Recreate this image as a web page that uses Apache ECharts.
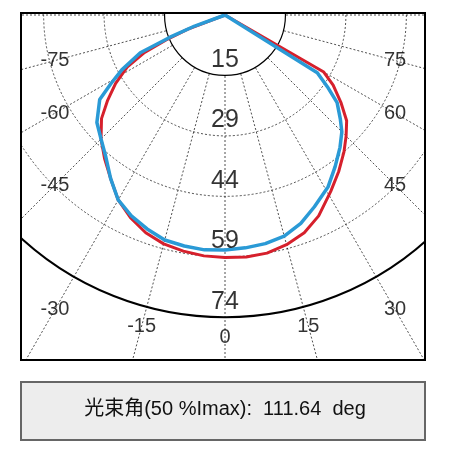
<!DOCTYPE html>
<html><head><meta charset="utf-8">
<script src="https://cdn.jsdelivr.net/npm/echarts@6/dist/echarts.min.js"></script>
<style>html,body{margin:0;padding:0;background:#fff}#c{width:451px;height:451px}</style>
</head><body><div id="c"></div>
<script>
// 配光曲线数据 [角度, 强度]
const blueAng = [-72,-70,-68,-66,-62,-59,-56,-50,-45,-40,-35,-30,-25,-20,-15,-10,-5,0,5,10,15,20,25,31,36,41,45,48,52,55,58,58];
const blueVal = [0,8,14.7,23,29,33,37.5,41.5,43.5,46,49.5,53,55,56.5,57.8,58.2,58.5,58.3,58,57.6,56.8,55,52.5,49.7,46.5,43.5,41,38.5,35.3,31,27,0];
const redAng = [-72,-69,-67,-65,-62,-58,-54,-50,-45,-40,-35,-30,-25,-20,-15,-10,-5,0,5,10,15,20,25,31,36,41,45,49,53,57,60,60];
const redVal = [0,10,16,22,27.5,32,36,40,43.5,46.5,49.5,53,55.5,57.5,58.8,59.5,60,60.2,60.3,60,59,57.5,55,51,48,45,42.5,40,36,32,28.3,0];
// 刻度
const ringPos = [15,30,45,60,75];
const ringLabels = ['15','29','44','59','74'];
const angTicks = [-75,-60,-45,-30,-15,0,15,30,45,60,75];

const cx = 225, cy = 15, R = 403; // R 对应 100
const chart = echarts.init(document.getElementById('c'));

// 角度标签位置：两侧贴边框，底部在外圈下方
const angLabelData = angTicks.map(a => {
  const s = Math.abs(Math.sin(a * Math.PI / 180));
  let r = Math.abs(a) >= 30 ? 170 / s : 322;
  return { value: [r / R * 100, a], label: { formatter: String(a) } };
});

chart.setOption({
  animation: false,
  polar: [
    { center: [cx, cy], radius: R },
    { center: [cx, cy], radius: R * 0.75 }
  ],
  angleAxis: [
    { polarIndex: 0, type: 'value', min: -180, max: 180, interval: 15, startAngle: 90, clockwise: false,
      axisLine: { show: false }, axisTick: { show: false }, axisLabel: { show: false },
      splitLine: { lineStyle: { type: [2, 2], color: '#222', width: 0.8 } } },
    { polarIndex: 1, type: 'value', min: -180, max: 180, startAngle: 90, clockwise: false,
      axisLine: { lineStyle: { color: '#000', width: 2 } }, axisTick: { show: false },
      axisLabel: { show: false }, splitLine: { show: false } }
  ],
  radiusAxis: [
    { polarIndex: 0, type: 'value', min: 0, max: 100, interval: 15,
      axisLine: { show: false }, axisTick: { show: false }, axisLabel: { show: false },
      splitLine: { lineStyle: { type: [2, 2], width: 0.8,
        color: ['transparent','transparent','#222','#222','#222','transparent','transparent','transparent'] } } },
    { polarIndex: 1, type: 'value', min: 0, max: 75, show: false }
  ],
  graphic: [
    { type: 'circle', shape: { cx: cx, cy: cy, r: R * 0.15 }, style: { fill: '#fff', stroke: '#000', lineWidth: 1.2 }, z: 1 },
    { type: 'rect', shape: { x: 0, y: 0, width: 451, height: 13 }, style: { fill: '#fff' }, z: 100 },
    { type: 'rect', shape: { x: 0, y: 0, width: 21, height: 451 }, style: { fill: '#fff' }, z: 100 },
    { type: 'rect', shape: { x: 425, y: 0, width: 26, height: 451 }, style: { fill: '#fff' }, z: 100 },
    { type: 'rect', shape: { x: 0, y: 360, width: 451, height: 91 }, style: { fill: '#fff' }, z: 100 },
    { type: 'rect', shape: { x: 21, y: 13, width: 404, height: 347 }, style: { fill: 'none', stroke: '#000', lineWidth: 2 }, z: 101 },
    { type: 'rect', shape: { x: 21, y: 382, width: 404, height: 58 }, style: { fill: '#ededed', stroke: '#666', lineWidth: 2 }, z: 101 },
    { type: 'text', x: 225, y: 409, z: 102,
      style: { text: '光束角(50 %Imax):  111.64  deg', fill: '#111', font: '20px "Liberation Sans", "Noto Sans CJK SC", sans-serif', align: 'center', verticalAlign: 'middle' } }
  ],
  series: [
    { type: 'line', coordinateSystem: 'polar', polarIndex: 0, showSymbol: false, z: 3,
      data: redAng.map((a, i) => [redVal[i], a]), lineStyle: { color: '#d6202c', width: 3 } },
    { type: 'line', coordinateSystem: 'polar', polarIndex: 0, showSymbol: false, z: 4,
      data: blueAng.map((a, i) => [blueVal[i], a]), lineStyle: { color: '#2a9ad6', width: 3.5 } },
    { type: 'scatter', coordinateSystem: 'polar', polarIndex: 0, symbolSize: 0, z: 5,
      data: ringPos.map((r, i) => ({ value: [r, 0], label: { formatter: ringLabels[i] } })),
      label: { show: true, position: 'top', distance: 3, color: '#000', fontSize: 25, fontFamily: 'Liberation Sans' } },
    { type: 'scatter', coordinateSystem: 'polar', polarIndex: 0, symbolSize: 0, z: 5,
      data: angLabelData,
      label: { show: true, position: 'inside', color: '#000', fontSize: 20, fontFamily: 'Liberation Sans' } }
  ]
});
</script></body></html>
